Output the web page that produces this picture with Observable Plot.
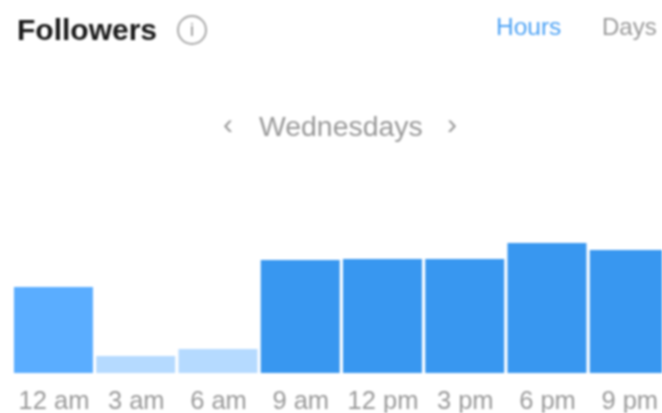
<!DOCTYPE html>
<html>
<head>
<meta charset="utf-8">
<script src="https://cdn.jsdelivr.net/npm/d3@7"></script>
<script src="https://cdn.jsdelivr.net/npm/@observablehq/plot@0.6"></script>
<style>
html,body{margin:0;padding:0;background:#fff;overflow:hidden;width:662px;height:413px}
#wrap{position:relative;width:662px;height:413px;font-family:"Liberation Sans",sans-serif;filter:blur(1px);background:#fff}
#head{position:relative;height:200px}
#head span,#head div{position:absolute;white-space:nowrap}
#t{left:17px;top:14px;font-size:30px;font-weight:700;color:#1a1a1a;line-height:32px}
#i{left:177px;top:15px;width:26px;height:26px;border:2px solid #a8a8a8;border-radius:50%;text-align:center;font-size:18px;line-height:26px;color:#8e8e8e}
#h{left:496px;top:13px;font-size:24.5px;line-height:28px;color:#4ea3f5}
#d{left:602px;top:13px;font-size:24px;line-height:28px;color:#999}
#w{left:259px;top:110px;font-size:28.4px;line-height:32px;color:#999}
#l{left:223px;top:109px;font-size:30px;line-height:30px;color:#999}
#r{left:447px;top:109px;font-size:30px;line-height:30px;color:#999}
svg{display:block}
</style>
</head>
<body>
<div id="wrap">
<div id="head">
<span id="t">Followers</span><div id="i">i</div>
<span id="h">Hours</span><span id="d">Days</span>
<span id="l">‹</span><span id="w">Wednesdays</span><span id="r">›</span>
</div>
<div id="chart"></div>
</div>
<script>
const hours = ["12 am","3 am","6 am","9 am","12 pm","3 pm","6 pm","9 pm"];
const followers = [86,17,24,113,114,114,130,123];
const levels = ["mid","low","low","high","high","high","high","high"];
const levelDomain = ["low","mid","high"];
const levelColors = ["#b5daff","#5aadff","#3897f0"];
const rows = hours.map((h,i)=>({hour:h,value:followers[i],level:levels[i]}));
const chart = Plot.plot({
  width:662,height:213,marginTop:43,marginBottom:40,marginLeft:13,marginRight:0,
  style:{fontFamily:"Liberation Sans, sans-serif",background:"transparent"},
  x:{domain:hours,range:[10.7,672],padding:0.04,round:false,label:null},
  y:{domain:[0,130],axis:null},
  color:{domain:levelDomain,range:levelColors},
  marks:[
    Plot.barY(rows,{x:"hour",y:"value",fill:"level"}),
    Plot.axisX({domain:hours,tickSize:0,tickPadding:17,fontSize:25.5,label:null,color:"#999"})
  ]
});
document.getElementById("chart").appendChild(chart);
</script>
</body>
</html>
